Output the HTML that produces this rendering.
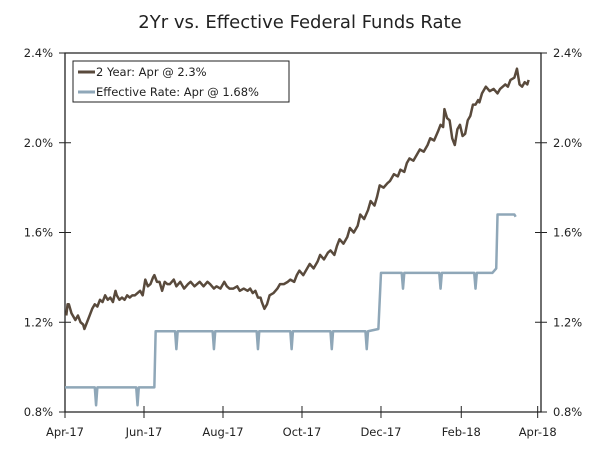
<!DOCTYPE html>
<html><head><meta charset="utf-8"><style>
body{margin:0;background:#fff;}
svg text{font-family:"DejaVu Sans","Liberation Sans",sans-serif;fill:#222;}
</style></head><body>
<svg id="chart" width="600" height="444" viewBox="0 0 600 444">
<text x="300" y="28" text-anchor="middle" font-size="18">2Yr vs. Effective Federal Funds Rate</text>
<g id="axes"></g>
<g id="series"></g>
<g>
<rect x="73" y="61" width="216" height="41" fill="#fff" stroke="#222" stroke-width="1"/>
<line x1="78" y1="72" x2="95" y2="72" stroke="#594a3c" stroke-width="3"/>
<text x="96" y="76" font-size="11.5">2 Year: Apr @ 2.3%</text>
<line x1="78" y1="92" x2="95" y2="92" stroke="#8fa7b8" stroke-width="3"/>
<text x="96" y="96" font-size="11.5">Effective Rate: Apr @ 1.68%</text>
</g>
</svg>
<script>
// days since 2017-04-01
const twoYrDays=[1,2,3,5,7,8,10,12,14,15,17,19,21,23,25,27,29,31,33,35,37,39,40,42,44,46,48,50,52,54,56,58,60,62,64,66,68,69,71,73,75,77,79,81,84,86,89,92,95,97,100,102,104,107,110,112,115,117,120,123,125,127,130,133,135,138,141,143,145,147,149,151,152,154,156,158,161,164,166,169,172,174,177,179,181,184,187,189,192,195,197,200,203,205,208,210,212,215,218,220,223,226,228,231,234,236,239,241,243,246,249,251,254,257,259,262,264,266,269,272,274,277,280,282,285,288,290,292,293,295,297,299,301,303,305,307,309,311,313,315,317,319,320,322,325,328,331,334,336,338,340,342,344,347,349,351,353,355,357,358];
const twoYrVals=[1.23,1.28,1.28,1.24,1.22,1.21,1.23,1.20,1.19,1.17,1.20,1.23,1.26,1.28,1.27,1.30,1.29,1.32,1.30,1.31,1.29,1.34,1.32,1.30,1.31,1.30,1.32,1.31,1.32,1.32,1.33,1.34,1.32,1.39,1.36,1.37,1.40,1.41,1.38,1.38,1.34,1.38,1.37,1.37,1.39,1.36,1.38,1.35,1.37,1.38,1.36,1.37,1.38,1.36,1.38,1.37,1.35,1.36,1.35,1.38,1.36,1.35,1.35,1.36,1.34,1.35,1.34,1.35,1.33,1.34,1.31,1.31,1.29,1.26,1.28,1.32,1.33,1.35,1.37,1.37,1.38,1.39,1.38,1.41,1.43,1.41,1.44,1.46,1.44,1.47,1.50,1.48,1.51,1.52,1.50,1.54,1.57,1.55,1.58,1.62,1.60,1.63,1.68,1.66,1.70,1.74,1.72,1.76,1.81,1.80,1.82,1.83,1.86,1.85,1.88,1.87,1.91,1.93,1.92,1.95,1.97,1.96,1.99,2.02,2.01,2.05,2.08,2.07,2.15,2.11,2.10,2.02,1.99,2.06,2.08,2.03,2.04,2.10,2.12,2.17,2.17,2.19,2.18,2.22,2.25,2.23,2.24,2.22,2.24,2.25,2.26,2.25,2.28,2.29,2.33,2.26,2.25,2.27,2.26,2.28,2.26,2.25,2.28,2.27];
const effDays=[0,23,24,25,55,56,57,69,70,85,86,87,114,115,116,148,149,150,174,175,176,205,206,207,232,233,234,242,244,260,261,262,289,290,291,316,317,318,330,333,334,347,348];
const effVals=[0.91,0.91,0.83,0.91,0.91,0.83,0.91,0.91,1.16,1.16,1.08,1.16,1.16,1.08,1.16,1.16,1.08,1.16,1.16,1.08,1.16,1.16,1.08,1.16,1.16,1.08,1.16,1.17,1.42,1.42,1.35,1.42,1.42,1.35,1.42,1.42,1.35,1.42,1.42,1.44,1.68,1.68,1.67];
const yTicks=[0.8,1.2,1.6,2.0,2.4];
const xTickDays=[0,61,122,183,244,306,365];
const xTickLabels=["Apr-17","Jun-17","Aug-17","Oct-17","Dec-17","Feb-18","Apr-18"];

const L=65,R=541,T=53,B=412;
const x=d=>L+d*1.295;
const y=v=>B-(v-0.8)/1.6*(B-T);
const NS="http://www.w3.org/2000/svg";
function mk(tag,attrs,parent){const e=document.createElementNS(NS,tag);for(const k in attrs)e.setAttribute(k,attrs[k]);parent.appendChild(e);return e;}
const ax=document.getElementById('axes');
const frame=mk('path',{d:`M${L},${T}H${R}V${B}H${L}Z`,fill:'none',stroke:'#222','stroke-width':1.3},ax);


yTicks.forEach(v=>{
  const yy=y(v);
  const tl=mk('line',{x1:L-6,x2:L+6,y1:yy,y2:yy,stroke:'#222'},ax);
  
  
  const tr=mk('line',{x1:R-6,x2:R+6,y1:yy,y2:yy,stroke:'#222'},ax);
  
  
  const lab=v.toFixed(1)+'%';
  const a=mk('text',{x:L-12,y:yy+4,'text-anchor':'end','font-size':11.5},ax);a.textContent=lab;
  
  
  const b=mk('text',{x:R+12,y:yy+4,'text-anchor':'start','font-size':11.5},ax);b.textContent=lab;
  
  
});
xTickDays.forEach((d,i)=>{
  const xx=x(d);
  const t=mk('line',{x1:xx,x2:xx,y1:B-6,y2:B+6,stroke:'#222'},ax);
  
  
  const lb=mk('text',{x:xx,y:B+24,'text-anchor':'middle','font-size':11.5},ax);lb.textContent=xTickLabels[i];
  
  
});
const sg=document.getElementById('series');
const e=mk('polyline',{points:effDays.map((d,i)=>x(d)+','+y(effVals[i])).join(' '),fill:'none',stroke:'#8fa7b8','stroke-width':2.5,'stroke-linejoin':'round'},sg);


const t2=mk('polyline',{points:twoYrDays.map((d,i)=>x(d)+','+y(twoYrVals[i])).join(' '),fill:'none',stroke:'#594a3c','stroke-width':2.5,'stroke-linejoin':'round'},sg);


</script>
</body></html>
